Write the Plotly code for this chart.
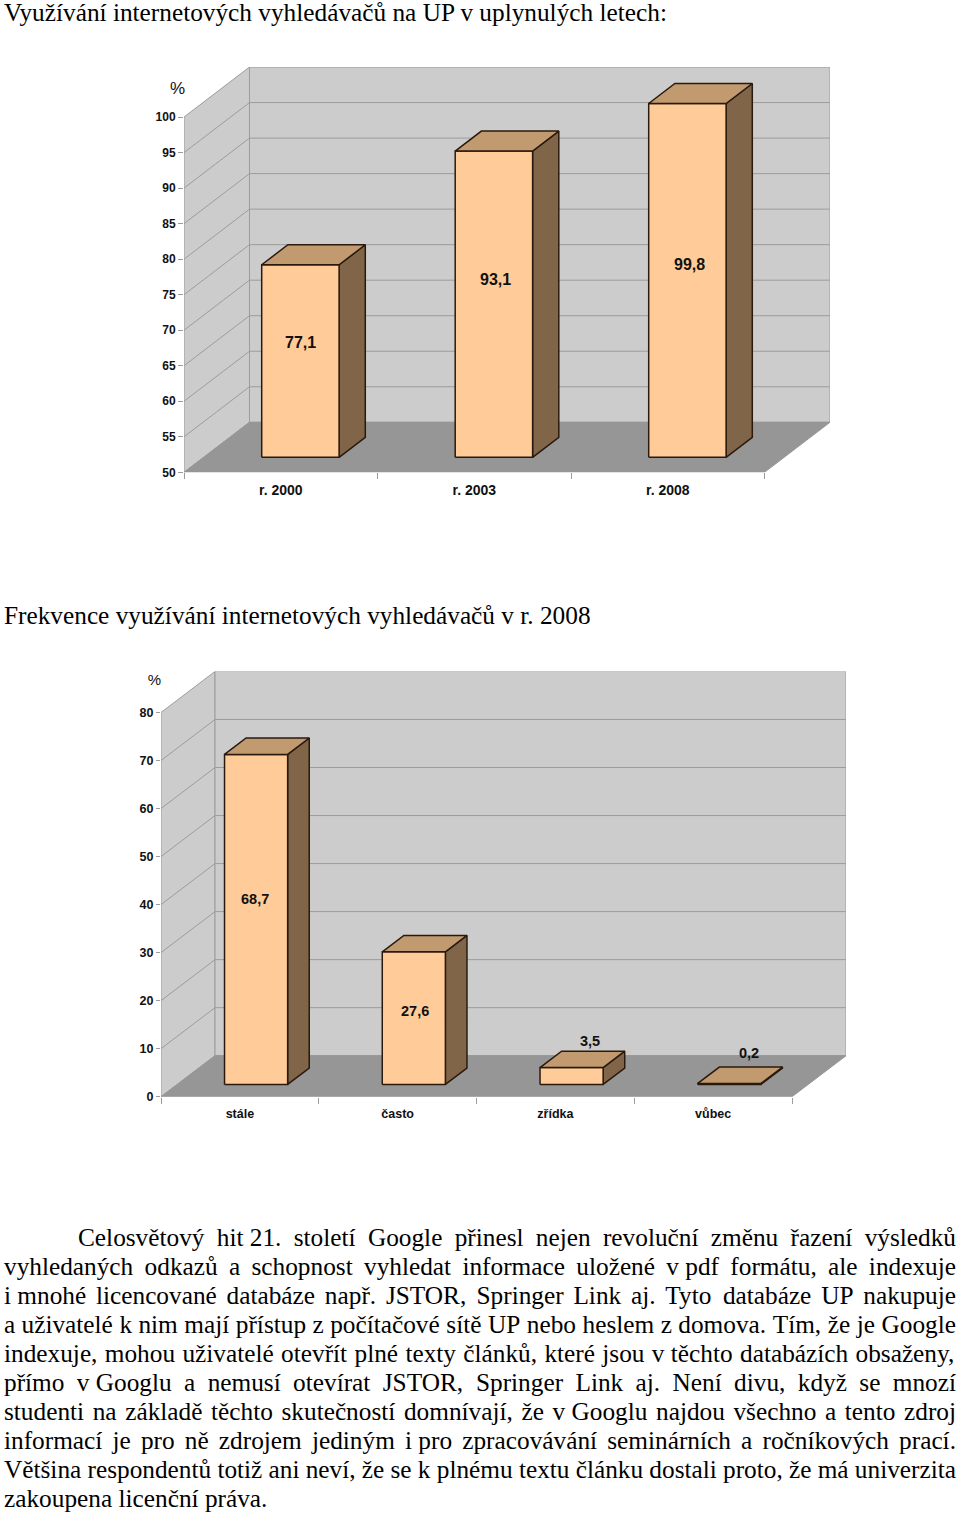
import unicodedata
import plotly.graph_objects as go

# ---------- data ----------
YEARS = ["r. 2000", "r. 2003", "r. 2008"]
YEAR_VALUES = [77.1, 93.1, 99.8]
YEAR_TICKS = [50, 55, 60, 65, 70, 75, 80, 85, 90, 95, 100]

FREQ_CATEGORIES = ["stále", "často", "zřídka", "vůbec"]
FREQ_VALUES = [68.7, 27.6, 3.5, 0.2]
FREQ_TICKS = [0, 10, 20, 30, 40, 50, 60, 70, 80]

TITLE_1 = "Využívání internetových vyhledávačů na UP v uplynulých letech:"
TITLE_2 = "Frekvence využívání internetových vyhledávačů v r. 2008"
N = "\u00a0"
PARAGRAPH = [
    f"Celosvětový hit{N}21. století Google přinesl nejen revoluční změnu řazení výsledků",
    f"vyhledaných odkazů a schopnost vyhledat informace uložené v{N}pdf formátu, ale indexuje",
    f"i{N}mnohé licencované databáze např. JSTOR, Springer Link aj. Tyto databáze UP nakupuje",
    f"a{N}uživatelé k{N}nim mají přístup z{N}počítačové sítě UP nebo heslem z{N}domova. Tím, že je Google",
    f"indexuje, mohou uživatelé otevřít plné texty článků, které jsou v{N}těchto databázích obsaženy,",
    f"přímo v{N}Googlu a nemusí otevírat JSTOR, Springer Link aj. Není divu, když se mnozí",
    f"studenti na základě těchto skutečností domnívají, že v{N}Googlu najdou všechno a tento zdroj",
    f"informací je pro ně zdrojem jediným i{N}pro zpracovávání seminárních a ročníkových prací.",
    f"Většina respondentů totiž ani neví, že se k{N}plnému textu článku dostali proto, že má univerzita",
    "zakoupena licenční práva.",
]

# ---------- styling / layout constants ----------
W, H = 960, 1513
PLOT_H = 1505  # height the plot area really gets in the page
WALL, FLOOR, GRID = "#CCCCCC", "#969696", "#9C9C9C"
FRONT, TOP, SIDE, EDGE = "#FFCC99", "#C19A70", "#806548", "#2A1A0E"
SANS, SERIF = "Liberation Sans", "Liberation Serif"

TIMES = dict(zip("abcdefghijklmnopqrstuvwxyz",
                 [444,500,444,500,444,333,500,500,278,278,500,278,778,500,500,500,500,333,389,278,500,500,722,500,500,444]))
TIMES.update(zip("ABCDEFGHIJKLMNOPQRSTUVWXYZ",
                 [722,667,667,722,611,556,722,722,333,389,722,611,889,722,722,556,722,667,556,611,722,722,944,722,722,611]))
TIMES.update({c: 500 for c in "0123456789"})
TIMES.update({" ": 250, "\u00a0": 250, ".": 250, ",": 250, ":": 278})


def text_width(s, size):
    return sum(TIMES.get(unicodedata.normalize("NFD", c)[0], 500) for c in s) * size / 1000


fig = go.Figure()


def poly_xy(polys):
    xs, ys = [], []
    for p in polys:
        xs += [q[0] for q in p] + [p[0][0], None]
        ys += [q[1] for q in p] + [p[0][1], None]
    return xs, ys


def add_poly(polys, fill, line, lw, xa, ya):
    xs, ys = poly_xy(polys)
    fig.add_trace(go.Scatter(x=xs, y=ys, mode="lines", fill="toself", fillcolor=fill,
                             line=dict(color=line, width=lw), hoverinfo="skip",
                             showlegend=False, xaxis=xa, yaxis=ya))


def chart(idx, cats, vals, ticks, px_left, px_right, px_base, px_top, px_max_tick,
          depth_px, tick_size, cat_size, val_size, label_shifts, standoff_x, y_ticklen):
    """Pseudo-3D column chart drawn in the axis' own data units."""
    xa, ya = ("x", "y") if idx == 1 else (f"x{idx}", f"y{idx}")
    n = len(cats)
    y0, y1 = ticks[0], ticks[-1]
    ppu = (px_base - px_max_tick) / (y1 - y0)
    cat_px = (px_right - depth_px[0] - px_left) / n
    dx, dy = depth_px[0] / cat_px, depth_px[1] / ppu
    ymax = y1 + dy

    # walls and floor
    add_poly([[(0, y0), (dx, y0 + dy), (dx, ymax), (0, y1)]], WALL, GRID, 1, xa, ya)
    add_poly([[(dx, y0 + dy), (n + dx, y0 + dy), (n + dx, ymax), (dx, ymax)]], WALL, GRID, 1, xa, ya)
    # gridlines
    gx, gy = [], []
    for t in ticks[1:-1]:
        gx += [0, dx, n + dx, None]
        gy += [t, t + dy, t + dy, None]
    fig.add_trace(go.Scatter(x=gx, y=gy, mode="lines", line=dict(color=GRID, width=1),
                             hoverinfo="skip", showlegend=False, xaxis=xa, yaxis=ya))
    add_poly([[(0, y0), (n, y0), (n + dx, y0 + dy), (dx, y0 + dy)]], FLOOR, FLOOR, 1, xa, ya)

    # columns
    fronts, tops, sides = [], [], []
    bw, fo, bd = 0.4, 0.3, 0.4
    for i, v in enumerate(vals):
        xl = i + 0.5 - bw / 2 + fo * dx
        xr = xl + bw
        b = y0 + fo * dy
        t = v + fo * dy
        ox, oy = bd * dx, bd * dy
        fronts.append([(xl, b), (xr, b), (xr, t), (xl, t)])
        tops.append([(xl, t), (xr, t), (xr + ox, t + oy), (xl + ox, t + oy)])
        sides.append([(xr, b), (xr + ox, b + oy), (xr + ox, t + oy), (xr, t)])
        sx, sy = label_shifts[i]
        fig.add_annotation(x=(xl + xr) / 2, y=t, xref=xa, yref=ya,
                           text="<b>" + f"{v}".replace(".", ",") + "</b>",
                           showarrow=False, xshift=sx, yshift=sy,
                           font=dict(family=SANS, size=val_size, color="#111111"))
    add_poly(sides, SIDE, EDGE, 1.5, xa, ya)
    add_poly(fronts, FRONT, EDGE, 1.5, xa, ya)
    add_poly(tops, TOP, EDGE, 1.5, xa, ya)

    suffix = "" if idx == 1 else str(idx)
    fig.update_layout({
        f"xaxis{suffix}": dict(
            domain=[px_left / W, px_right / W], range=[0, n + dx], anchor=ya, showgrid=False,
            zeroline=False, showline=False, tickmode="array",
            tickvals=[i + 0.5 for i in range(n)], ticktext=[f"<b>{c}</b>" for c in cats], ticks="",
            ticklabelstandoff=standoff_x,
            tickfont=dict(family=SANS, size=cat_size, color="#111111"),
            minor=dict(tickmode="array", tickvals=list(range(n + 1)), ticks="outside", ticklen=6,
                       tickcolor=GRID, tickwidth=1, showgrid=False)),
        f"yaxis{suffix}": dict(
            domain=[1 - px_base / PLOT_H, 1 - px_top / PLOT_H], range=[y0, ymax], anchor=xa, showgrid=False,
            zeroline=False, showline=False, tickmode="array", tickvals=ticks,
            ticktext=[f"<b>{t}</b>" for t in ticks], ticks="outside", ticklen=y_ticklen, tickcolor=GRID,
            tickfont=dict(family=SANS, size=tick_size, color="#111111")),
    })


chart(1, YEARS, YEAR_VALUES, YEAR_TICKS, 184, 830, 472, 67, 117, (65.5, 50),
      12, 14, 16, [(0, -78), (2, -128), (2, -161)], 8, 5)
chart(2, FREQ_CATEGORIES, FREQ_VALUES, FREQ_TICKS, 161, 846, 1096, 671, 712, (54, 41),
      12.5, 12.5, 14.5, [(-1, -145), (1, -59), (18, 27), (20, 30)], 8, 4)

# page-level text, positioned through a full-page axis pair
px, py, pt = [], [], []
SIZE = 25.3
px += [4, 4]
py += [15, 617]
pt += [TITLE_1, TITLE_2]
for k, line in enumerate(PARAGRAPH):
    words = line.split(" ")
    left = 78 if k == 0 else 4
    right = 956
    widths = [text_width(w, SIZE) for w in words]
    last = k == len(PARAGRAPH) - 1
    gap = text_width(" ", SIZE) if last else (right - left - sum(widths)) / (len(words) - 1)
    x = left
    for w, wd in zip(words, widths):
        px.append(x)
        py.append(1239 + 29 * k)
        pt.append(w)
        x += wd + gap

fig.add_trace(go.Scatter(x=px, y=py, text=pt, mode="text", textposition="middle right",
                         textfont=dict(family=SERIF, size=SIZE, color="#000000"),
                         hoverinfo="skip", showlegend=False, xaxis="x3", yaxis="y3", cliponaxis=False))
fig.add_trace(go.Scatter(x=[177.5, 154.5], y=[90, 681], text=["%", "%"], mode="text",
                         textposition="middle center", hoverinfo="skip", showlegend=False,
                         textfont=dict(family=SANS, size=[17, 15], color="#111111"),
                         xaxis="x3", yaxis="y3", cliponaxis=False))

fig.update_layout(
    width=W, height=H, margin=dict(l=0, r=0, t=0, b=0, pad=0), autosize=False,
    paper_bgcolor="white", plot_bgcolor="rgba(0,0,0,0)", showlegend=False,
    xaxis3=dict(domain=[0, 1], range=[0, W], visible=False, anchor="y3"),
    yaxis3=dict(domain=[0, 1], range=[PLOT_H, 0], visible=False, anchor="x3"),
)
fig.write_html("out.html", config={"displayModeBar": False}, default_width=f"{W}px", default_height=f"{H}px",
               post_script="document.body.style.margin='0';")
